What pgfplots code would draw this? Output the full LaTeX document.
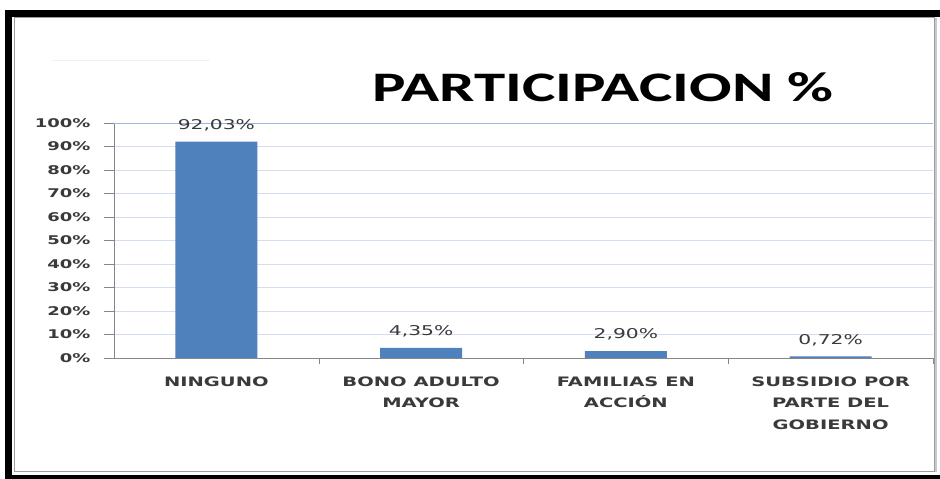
\documentclass[border=0pt]{standalone}
\usepackage{pgfplots}
\pgfplotsset{compat=1.18}
\usepackage{graphicx}
\usepackage{fontspec}
\setmainfont{DejaVu Sans}
\newfontfamily\titlefont{Carlito}
\definecolor{barblue}{HTML}{4F81BD}
\definecolor{gridblue}{HTML}{D3DEEE}
\definecolor{topblue}{HTML}{9DB7DD}
\definecolor{axisgray}{HTML}{868686}
\definecolor{labelgray}{HTML}{3A3A3A}
% the screenshot is stretched sideways, so is the text
\newcommand{\wx}[1]{\scalebox{1.5}[1]{#1}}

\begin{document}
\begin{tikzpicture}[x=1pt,y=1pt]
\useasboundingbox (0,0) rectangle (940,479);
\clip (0,0) rectangle (940,479);
\fill[white] (0,0) rectangle (940,479);
% black outer frame
\draw[line width=7pt] (8.5,0) -- (8.5,465.5) -- (940,465.5);
\draw[line width=4pt] (5,2) -- (940,2);
% grey chart border
\draw[axisgray!80, line width=1pt] (14.5,7.5) rectangle (934,461);
\draw[axisgray!45, line width=2pt] (936,7) -- (936,461);
\draw[black!6, line width=1pt] (53,418) -- (210,418);
\node[font=\titlefont\fontsize{42}{50}\selectfont\bfseries] at (603,391.5) {\wx{PARTICIPACION \%}};

\begin{axis}[
  at={(114pt,121pt)}, anchor=south west,
  scale only axis, width=819pt, height=235pt,
  xmin=-0.5, xmax=3.5, ymin=0, ymax=100,
  enlargelimits=false,
  axis lines=left, axis line style={axisgray, -},
  ybar, bar width=0.4,
  ytick={0,10,...,100},
  yticklabels={\wx{0\%},\wx{10\%},\wx{20\%},\wx{30\%},\wx{40\%},\wx{50\%},\wx{60\%},\wx{70\%},\wx{80\%},\wx{90\%},\wx{100\%}},
  xtick={0,1,2,3},
  xticklabels={{\wx{NINGUNO}},{\wx{BONO ADULTO}\\\wx{MAYOR}},{\wx{FAMILIAS EN}\\\wx{ACCIÓN}},{\wx{SUBSIDIO POR}\\\wx{PARTE DEL}\\\wx{GOBIERNO}}},
  minor xtick={0.5,1.5,2.5,3.5},
  tick align=outside, major tick length=10pt, minor tick length=6pt,
  major x tick style={draw=none},
  tick style={axisgray},
  ymajorgrids, grid style={gridblue, line width=0.8pt},
  yticklabel style={font=\fontsize{12}{13}\selectfont\bfseries, text=labelgray, xshift=-10pt},
  xticklabel style={font=\fontsize{13}{21.5}\selectfont\bfseries, text=labelgray, align=center, yshift=-5pt},
  nodes near coords={\wx{\pgfplotspointmeta}},
  point meta=explicit symbolic,
  nodes near coords style={font=\fontsize{13.5}{16}\selectfont, text=labelgray, anchor=center, yshift=16.5pt},
  clip=false,
]
\draw[topblue, line width=0.8pt] (axis cs:-0.5,100) -- (axis cs:3.5,100);
\addplot[fill=barblue, draw=none] coordinates {(0,92.03) [92,03\%] (1,4.35) [4,35\%] (2,2.90) [2,90\%] (3,0.72) [0,72\%]};
\end{axis}
\end{tikzpicture}
\end{document}
